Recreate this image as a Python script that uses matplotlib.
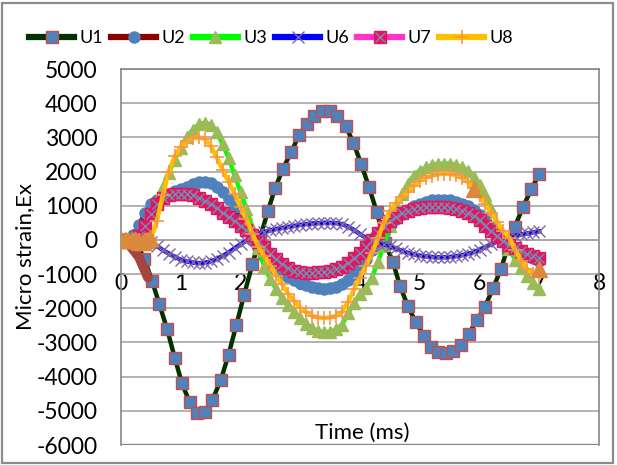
import numpy as np
import matplotlib
matplotlib.use("Agg")
import matplotlib.pyplot as plt
from matplotlib.patches import Rectangle
from matplotlib.legend_handler import HandlerTuple

plt.rcParams['font.family'] = ['Lato', 'DejaVu Sans']
plt.rcParams['axes.unicode_minus'] = False

# --- donnees -----------------------------------------------------------
# U1 : echantillonnage plus lache (~0.125 ms)
t_u1 = [0.0, 0.13, 0.26, 0.39, 0.52, 0.64, 0.77, 0.9, 1.02, 1.15, 1.27, 1.4,
        1.53, 1.67, 1.8, 1.93, 2.06, 2.2, 2.33, 2.46, 2.58, 2.71, 2.85, 2.98,
        3.11, 3.23, 3.36, 3.49, 3.62, 3.76, 3.89, 4.02, 4.15, 4.28, 4.42,
        4.55, 4.67, 4.8, 4.93, 5.07, 5.19, 5.31, 5.44, 5.56, 5.69, 5.82,
        5.96, 6.09, 6.23, 6.36, 6.47, 6.59, 6.73, 6.87, 7.0]
u1 = [0, 0, -100, -550, -1200, -1870, -2600, -3450, -4200, -4750, -5050,
      -5030, -4680, -4100, -3360, -2490, -1610, -700, 80, 850, 1520, 2080,
      2570, 3070, 3390, 3630, 3770, 3770, 3630, 3330, 2840, 2220, 1550, 820,
      -90, -640, -1350, -1930, -2400, -2800, -3130, -3270, -3300, -3250,
      -3070, -2750, -2340, -1960, -1400, -850, -230, 380, 970, 1490, 1930]

# autres jauges : pas de 0.1 ms
t_dense = [round(0.1 * i, 1) for i in range(71)]

u2 = [0, 0, 150, 450, 780, 1050, 1180, 1270, 1350, 1420,
      1490, 1560, 1630, 1680, 1700, 1660, 1560, 1400, 1200, 950,
      600, 280, 0, -250, -480, -680, -850, -980, -1080, -1170,
      -1250, -1330, -1390, -1420, -1430, -1420, -1380, -1300, -1180, -1000,
      -780, -550, -300, -50, 200, 420, 600, 750, 880, 980,
      1060, 1120, 1160, 1180, 1180, 1160, 1120, 1060, 980, 880,
      740, 580, 390, 200, 0, -150, -280, -380, -460, -540,
      -620]

u3 = [0, 0, 0, 100, 400, 750, 1150, 1550, 1950, 2350,
      2700, 3000, 3230, 3380, 3430, 3370, 3150, 2800, 2400, 1900,
      1400, 900, 350, -250, -800, -1150, -1450, -1700, -1900, -2100,
      -2280, -2450, -2580, -2660, -2700, -2690, -2620, -2480, -2150, -1850,
      -1580, -1400, -1100, -650, -150, 400, 950, 1350, 1650, 1880,
      2030, 2120, 2180, 2220, 2230, 2230, 2200, 2130, 2020, 1850,
      1600, 1300, 900, 450, 50, -280, -580, -830, -1050, -1250,
      -1450]

u6 = [0, 0, 0, 0, 0, -50, -170, -300, -400, -500,
      -580, -630, -660, -680, -670, -630, -560, -470, -370, -250,
      -130, -20, 90, 170, 230, 280, 320, 350, 380, 410,
      440, 460, 480, 490, 500, 500, 490, 460, 390, 290,
      170, 60, -20, -80, -130, -190, -250, -320, -380, -420,
      -460, -480, -500, -510, -510, -500, -480, -450, -410, -360,
      -290, -210, -120, -40, 30, 80, 120, 160, 190, 220,
      250]

u7 = [0, 0, 0, 100, 400, 750, 1050, 1220, 1300, 1340,
      1350, 1340, 1300, 1230, 1150, 1050, 930, 800, 680, 550,
      420, 280, 130, -50, -220, -400, -560, -700, -820, -900,
      -940, -960, -960, -950, -930, -900, -850, -780, -680, -540,
      -380, -200, 0, 200, 400, 560, 680, 780, 850, 900,
      930, 950, 960, 960, 950, 930, 900, 850, 780, 690,
      570, 420, 260, 120, -20, -150, -250, -330, -400, -470,
      -530]

u8 = [0, 0, 0, 0, 0, 0, 550, 1300, 2000, 2450,
      2720, 2880, 2970, 3000, 2960, 2750, 2420, 2050, 1700, 1350,
      950, 600, 180, -200, -480, -750, -1050, -1300, -1580, -1800,
      -1980, -2120, -2220, -2270, -2280, -2270, -2220, -2100, -1820, -1450,
      -1100, -750, -380, 50, 500, 850, 1080, 1250, 1400, 1580,
      1730, 1820, 1880, 1920, 1940, 1930, 1890, 1820, 1700, 1520,
      1300, 1050, 780, 520, 250, 60, -300, -620, -850, -1000,
      -1050]

# taches parasites visibles sur l'original (marqueurs orange, trainee brune)
tache_t = [0.0, 0.06, 0.12, 0.18, 0.24, 0.3, 0.36, 0.42, 0.48, 5.9, 7.0]
tache_v = [0, 0, 0, 0, 0, -50, -50, 0, 60, 1500, -850]
trainee_t = [0.12, 0.3, 0.45]
trainee_v = [-100, -500, -1100]

x_ticks = list(range(0, 9))
y_ticks = list(range(-6000, 6000, 1000))

# --- figure ------------------------------------------------------------
fig = plt.figure(figsize=(6.17, 4.65), dpi=100)
fig.patches.append(Rectangle((0.004, 0.004), 0.99, 0.99, transform=fig.transFigure,
                             fill=False, edgecolor='#8C8C8C', linewidth=1.6))

ax = fig.add_axes([121 / 617, 20 / 465, 478 / 617, 376 / 465])

lw = 3.2
h1, = ax.plot(t_u1, u1, color='#003300', lw=lw, marker='s', ms=8.5,
              mfc='#4F81BD', mec='#C0504D', mew=1.0, label='U1', zorder=3)
h2, = ax.plot(t_dense, u2, color='#8B0000', lw=lw, marker='o', ms=8,
              mfc='#4F81BD', mec='#4F81BD', label='U2', zorder=3)
ax.plot(trainee_t, trainee_v, color='#A5453F', lw=7, solid_capstyle='round', zorder=3)
h3, = ax.plot(t_dense, u3, color='#00FF00', lw=lw, marker='^', ms=9,
              mfc='#9BBB59', mec='#9BBB59', label='U3', zorder=3)
h6, = ax.plot(t_dense, u6, color='#0000FF', lw=lw, marker='x', ms=8,
              mec='#8064A2', mew=1.0, label='U6', zorder=3)
h7a, = ax.plot(t_dense, u7, color='#FF33CC', lw=lw, marker='s', ms=8,
               mfc='#E8135F', mec='#E8135F', zorder=3)
h7b, = ax.plot(t_dense, u7, ls='none', marker='x', ms=7.5,
               mec='#6F8FB5', mew=1.0, zorder=3)
h8, = ax.plot(t_dense, u8, color='#FFC000', lw=lw, marker='+', ms=10,
              mec='#F79646', mew=1.2, label='U8', zorder=3)
ax.plot(tache_t, tache_v, ls='none', marker='^', ms=12, mfc='#DA8A3C',
        mec='#DA8A3C', zorder=3)

ax.set_xlim(0, 8)
ax.set_ylim(-6000, 5000)
ax.set_xticks(x_ticks)
ax.set_yticks(y_ticks)
ax.grid(axis='y', color='#A6A6A6', lw=1.2)
ax.set_axisbelow(True)

for s in ['left', 'right', 'top']:
    ax.spines[s].set_color('#868686')
    ax.spines[s].set_linewidth(1.2)
ax.spines['bottom'].set_position(('data', 0))
ax.spines['bottom'].set_color('#A6A6A6')
ax.spines['bottom'].set_linewidth(1.2)
# cadre bas de la zone de trace
ax.axhline(-6000, color='#868686', lw=2.4, zorder=1)

ax.tick_params(axis='y', length=0, pad=17, labelsize=16.5, labelcolor='black')
ax.tick_params(axis='x', length=0, pad=24, labelsize=16.5, labelcolor='black')

fig.text(25 / 617, 1 - 256 / 465, 'Micro strain,Ex', rotation=90,
         ha='center', va='center', fontsize=16)
fig.text(362 / 617, 1 - 433 / 465, 'Time (ms)', ha='center', va='center',
         fontsize=16)

leg = fig.legend([h1, h2, h3, h6, (h7a, h7b), h8],
                 ['U1', 'U2', 'U3', 'U6', 'U7', 'U8'],
                 handler_map={tuple: HandlerTuple(ndivide=1)},
                 loc='center', bbox_to_anchor=(271 / 617, 1 - 38 / 465),
                 ncol=6, frameon=False, fontsize=13, handlelength=2.5,
                 handletextpad=0.28, columnspacing=0.45)
for ligne in leg.get_lines():
    ligne.set_linewidth(4.5)

fig.savefig('out.png', dpi=100)
